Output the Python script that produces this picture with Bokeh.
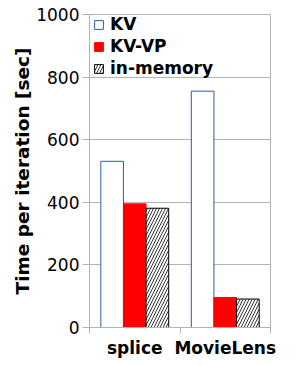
from bokeh.plotting import figure
from bokeh.models import ColumnDataSource, FixedTicker, Legend, LegendItem, Range1d
from bokeh.embed import file_html
from bokeh.resources import INLINE

categories = ["splice", "MovieLens"]
series = ["KV", "KV-VP", "in-memory"]
kv = [531, 755]
kv_vp = [395, 96]
in_memory = [381, 91]
y_ticks = [0, 200, 400, 600, 800, 1000]

FONT = "DejaVu Sans"
GRID = "#b3b3b3"

centers = [i + 0.5 for i in range(len(categories))]
offsets = [-0.25, 0.0, 0.25]

p = figure(width=281, height=360, output_backend="svg", toolbar_location=None,
           x_range=Range1d(0, len(categories)), y_range=Range1d(0, 1000),
           min_border_left=89, min_border_right=11, min_border_top=14, min_border_bottom=20)
p.outline_line_color = GRID
p.background_fill_color = "white"
p.border_fill_color = "white"

def src(vals, off):
    return ColumnDataSource(dict(x=[c + off for c in centers], top=vals))

r_kv = p.vbar(x="x", top="top", width=0.25, source=src(kv, offsets[0]),
              fill_color="white", line_color="#2f5f98", line_width=1)
r_vp = p.vbar(x="x", top="top", width=0.25, source=src(kv_vp, offsets[1]),
              fill_color="#ff0000", line_color="#ff0000", line_width=1)
r_im = p.vbar(x="x", top="top", width=0.25, source=src(in_memory, offsets[2]),
              fill_color="white", line_color="black", line_width=1,
              hatch_pattern="/", hatch_color="#333333", hatch_scale=6, hatch_weight=1)

p.xaxis.ticker = FixedTicker(ticks=centers, minor_ticks=list(range(len(categories) + 1)))
p.xaxis.major_label_overrides = {c: n for c, n in zip(centers, categories)}
p.xaxis.major_tick_out = 0
p.xaxis.major_tick_in = 0
p.xaxis.minor_tick_out = 6
p.xaxis.minor_tick_in = 0
p.xaxis.minor_tick_line_color = GRID
p.xaxis.axis_line_color = GRID
p.xaxis.major_label_standoff = 4
p.xaxis.major_label_text_font = FONT
p.xaxis.major_label_text_font_size = "17px"
p.xaxis.major_label_text_font_style = "bold"
p.xaxis.major_label_text_color = "black"

p.yaxis.ticker = FixedTicker(ticks=y_ticks)
p.yaxis.minor_tick_line_color = None
p.yaxis.major_tick_out = 7
p.yaxis.major_tick_in = 0
p.yaxis.major_tick_line_color = GRID
p.yaxis.axis_line_color = GRID
p.yaxis.major_label_standoff = 3
p.yaxis.major_label_text_font = FONT
p.yaxis.major_label_text_font_size = "17px"
p.yaxis.major_label_text_color = "black"
p.yaxis.axis_label = "Time per iteration [sec]"
p.yaxis.axis_label_text_font = FONT
p.yaxis.axis_label_text_font_size = "18.5px"
p.yaxis.axis_label_text_font_style = "bold"
p.yaxis.axis_label_text_color = "black"
p.yaxis.axis_label_standoff = 0

p.xgrid.grid_line_color = None
p.ygrid.grid_line_color = GRID
p.ygrid.ticker = FixedTicker(ticks=y_ticks)

legend = Legend(items=[LegendItem(label=series[0], renderers=[r_kv]),
                       LegendItem(label=series[1], renderers=[r_vp]),
                       LegendItem(label=series[2], renderers=[r_im])],
                location=(4, 248))
legend.padding = 0
legend.margin = 0
legend.spacing = 0
legend.glyph_width = 11
legend.glyph_height = 11
legend.label_height = 22
legend.label_standoff = 6
legend.label_text_font = FONT
legend.label_text_font_size = "17px"
legend.label_text_font_style = "bold"
legend.label_text_color = "black"
legend.border_line_color = None
legend.background_fill_alpha = 0
p.add_layout(legend)

open("out.html", "w").write(file_html(p, INLINE))
